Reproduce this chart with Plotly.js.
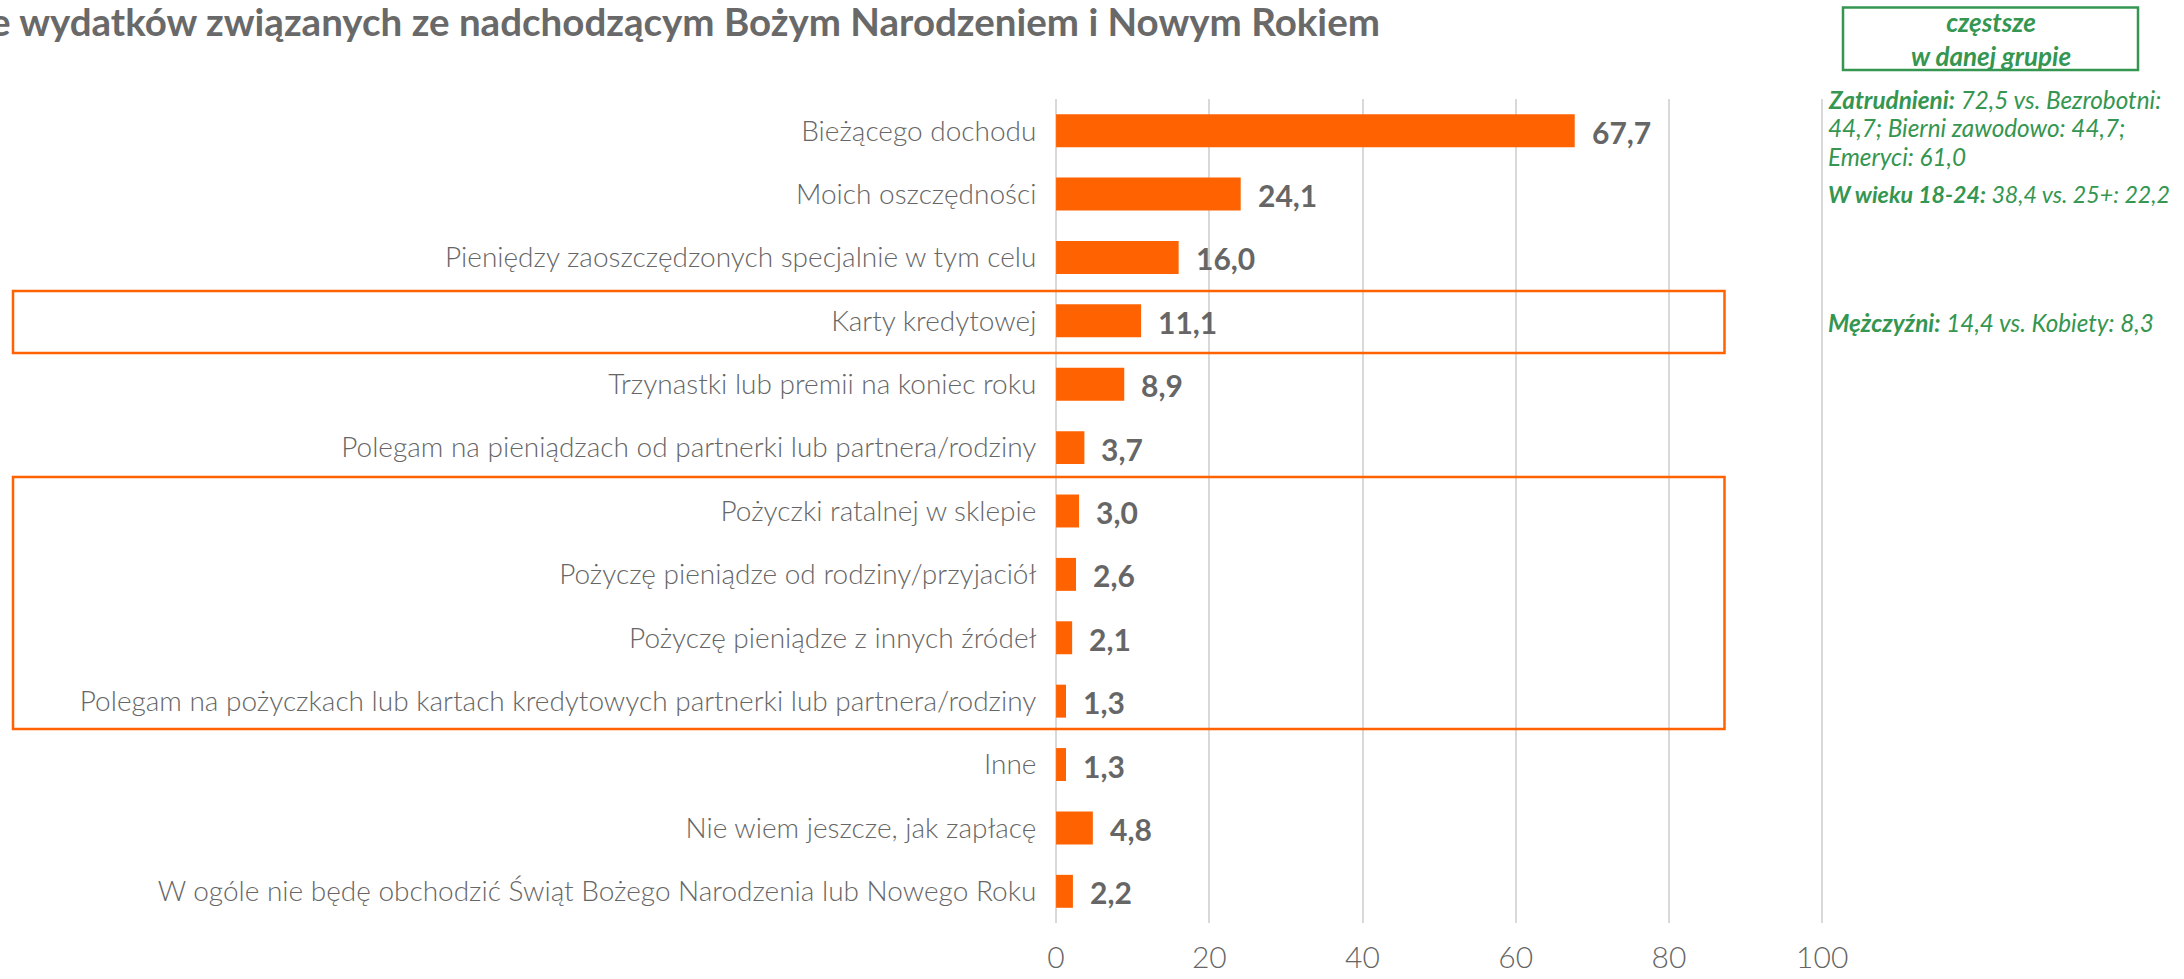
<!DOCTYPE html>
<html>
<head>
<meta charset="utf-8">
<script src="https://cdn.plot.ly/plotly-3.0.1.min.js"></script>
<style>html,body{margin:0;padding:0;background:#fff;}#chart{width:2184px;height:979px;}</style>
</head>
<body>
<div id="chart"></div>
<script>
// ---- data ----
const categories = [
  "Bieżącego dochodu",
  "Moich oszczędności",
  "Pieniędzy zaoszczędzonych specjalnie w tym celu",
  "Karty kredytowej",
  "Trzynastki lub premii na koniec roku",
  "Polegam na pieniądzach od partnerki lub partnera/rodziny",
  "Pożyczki ratalnej w sklepie",
  "Pożyczę pieniądze od rodziny/przyjaciół",
  "Pożyczę pieniądze z innych źródeł",
  "Polegam na pożyczkach lub kartach kredytowych partnerki lub partnera/rodziny",
  "Inne",
  "Nie wiem jeszcze, jak zapłacę",
  "W ogóle nie będę obchodzić Świąt Bożego Narodzenia lub Nowego Roku"
];
const values = [67.7, 24.1, 16.0, 11.1, 8.9, 3.7, 3.0, 2.6, 2.1, 1.3, 1.3, 4.8, 2.2];
const tickValues = [0, 20, 40, 60, 80, 100];
const titleText = "e wydatków związanych ze nadchodzącym Bożym Narodzeniem i Nowym Rokiem";
const legendBoxText = "częstsze<br>w danej grupie";
// note lines: [bold part, italic part]
const noteBold = ["Zatrudnieni:", "", "", "W wieku 18-24:", "Mężczyźni:"];
const noteText = [" 72,5 vs. Bezrobotni:", "44,7; Bierni zawodowo: 44,7;", "Emeryci: 61,0", " 38,4 vs. 25+: 22,2", " 14,4 vs. Kobiety: 8,3"];

// ---- layout helpers ----
const W = 2184, H = 979;
const M = {l: 1053, r: 358, t: 99, b: 56};
const PW = W - M.l - M.r, PH = H - M.t - M.b;
const px = v => (v - M.l) / PW;
const py = v => (H - M.b - v) / PH;

const ORANGE = "#FF6200", GREEN = "#349650", GRAY = "#666666";
const fmt = v => v.toFixed(1).replace(".", ",");

const trace = {
  type: "bar", orientation: "h",
  x: values, y: categories,
  marker: {color: ORANGE, line: {width: 0}},
  width: 0.52, hoverinfo: "none"
};

const annotations = [];
values.forEach((v, i) => {
  annotations.push({
    x: v, y: categories[i], xref: "x", yref: "y",
    text: fmt(v), showarrow: false, xanchor: "left", yanchor: "middle",
    xshift: 15, yshift: -1,
    font: {family: "Lato", size: 30, color: GRAY, weight: 700}
  });
});
annotations.push({
  xref: "paper", yref: "paper", x: px(-12), y: py(21), xanchor: "left", yanchor: "middle",
  text: "<b>" + titleText + "</b>", showarrow: false,
  font: {family: "Lato", size: 38.5, color: "#696969"}
});
annotations.push({
  xref: "paper", yref: "paper", x: px(1991), y: py(39), xanchor: "center", yanchor: "middle",
  text: "<b><i>" + legendBoxText + "</i></b>", showarrow: false, align: "center",
  font: {family: "Lato", size: 26, color: GREEN}
});
const noteY = [99, 127.5, 156, 194, 322];
noteText.forEach((t, i) => {
  annotations.push({
    xref: "paper", yref: "paper", x: px(1826), y: py(noteY[i]), xanchor: "left", yanchor: "middle",
    text: (noteBold[i] ? "<b>" + noteBold[i] + "</b>" : "") + t, showarrow: false, align: "left",
    font: {family: "Lato", size: i === 3 ? 23.2 : 24.3, color: GREEN, style: "italic"}
  });
});

const shapes = [
  {type: "rect", xref: "paper", yref: "paper", x0: px(13), x1: px(1724.5), y0: py(291), y1: py(353),
   line: {color: ORANGE, width: 2.5}, fillcolor: "rgba(0,0,0,0)"},
  {type: "rect", xref: "paper", yref: "paper", x0: px(13), x1: px(1724.5), y0: py(477), y1: py(729),
   line: {color: ORANGE, width: 2.5}, fillcolor: "rgba(0,0,0,0)"},
  {type: "rect", xref: "paper", yref: "paper", x0: px(1843), x1: px(2138), y0: py(7.5), y1: py(70),
   line: {color: GREEN, width: 2.5}, fillcolor: "rgba(0,0,0,0)"}
];

const layout = {
  width: W, height: H,
  margin: M,
  paper_bgcolor: "#fff", plot_bgcolor: "#fff",
  showlegend: false,
  bargap: 0.48,
  xaxis: {
    range: [-0.4, 100.5], tickvals: tickValues, ticktext: tickValues.map(String),
    showgrid: true, gridcolor: "#d9d9d9", gridwidth: 2,
    zeroline: true, zerolinecolor: "#d9d9d9", zerolinewidth: 2,
    showline: false, ticks: "outside", ticklen: 8, tickcolor: "rgba(0,0,0,0)",
    tickfont: {family: "Lato", size: 30, color: GRAY, weight: 300},
    fixedrange: true
  },
  yaxis: {
    type: "category", categoryorder: "array", categoryarray: categories,
    autorange: "reversed", showgrid: false, zeroline: false, showline: false,
    ticks: "outside", ticklen: 10, tickcolor: "rgba(0,0,0,0)",
    tickfont: {family: "Lato", size: 28, color: GRAY, weight: 300},
    fixedrange: true
  },
  annotations: annotations,
  shapes: shapes
};

Plotly.newPlot("chart", [trace], layout, {displayModeBar: false, staticPlot: true});
</script>
</body>
</html>
